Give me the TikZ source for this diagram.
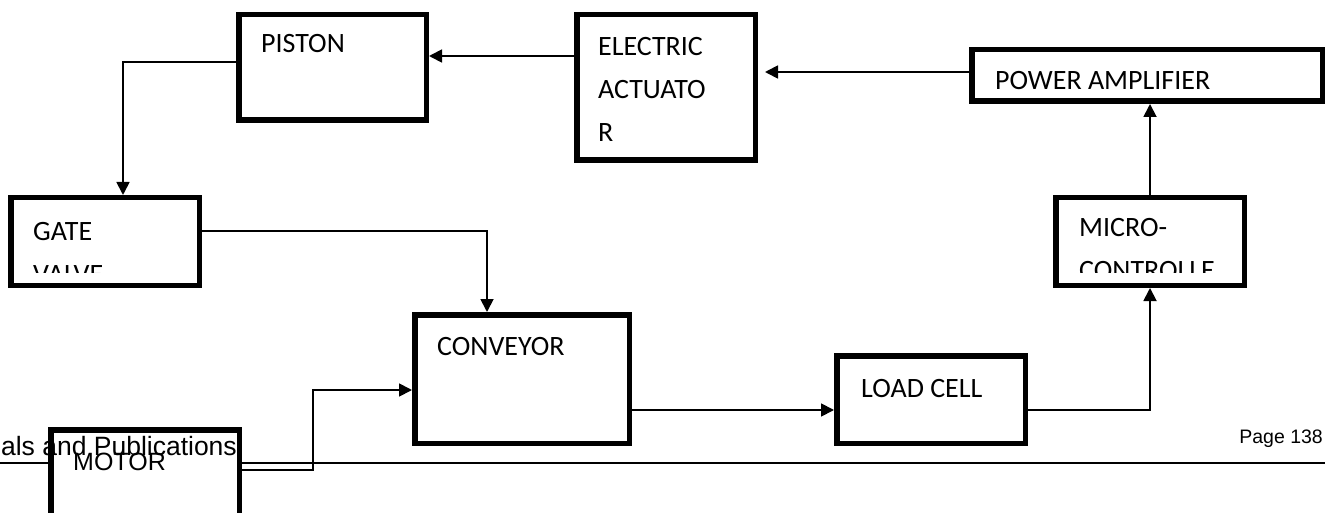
\documentclass[tikz,border=0pt]{standalone}
\usepackage{fontspec}
\setmainfont{Carlito}
\newfontfamily\arialfont{Liberation Sans}
\usepackage{tikz}
\usetikzlibrary{arrows.meta}

\begin{document}
\begin{tikzpicture}[x=1pt,y=-1pt,
    blk/.style={draw, line width=5.5pt, fill=white, inner sep=0pt},
    lbl/.style={anchor=base west, inner sep=0pt, align=left, font=\fontsize{28}{43}\selectfont},
    lbls/.style={lbl, anchor=north west},
    wire/.style={line width=1.8pt},
    arr/.style={wire, -{Triangle[length=13pt,width=13pt]}}]
    \clip (0,0) rectangle (1333,513);
    \fill[white] (0,0) rectangle (1333,513);
    % page footer
    \draw[line width=1.5pt] (0,463)--(1325,463);
    \node[anchor=base east, inner sep=0pt, font=\arialfont\fontsize{19.5}{22}\selectfont] (pg) at (1323,443) {Page 138};
    % blocks
    \node[blk, minimum width=187.5pt, minimum height=105.5pt] (piston) at (332.5,67.5) {};
    \node[blk, minimum width=178.5pt, minimum height=145.5pt] (ea) at (666,87.5) {};
    \node[blk, minimum width=350.5pt, minimum height=51.5pt] (pa) at (1147,75.5) {};
    \node[blk, minimum width=188.5pt, minimum height=87.5pt] (gv) at (105,241.5) {};
    \node[blk, minimum width=188.5pt, minimum height=87.5pt] (mc) at (1150,241.5) {};
    \node[blk, minimum width=214.5pt, minimum height=128.5pt] (conv) at (522,379) {};
    \node[blk, minimum width=188.5pt, minimum height=87.5pt] (lc) at (931,399.5) {};
    \node[blk, minimum width=188.5pt, minimum height=87.5pt] (motor) at (145,473.5) {};
    \node[anchor=base east, inner sep=0pt, font=\arialfont\fontsize{26.5}{30}\selectfont] (src) at (237,455) {als and Publications};
    % texts
    \node[lbl] (tpiston) at (261,53) {PISTON};
    \node[lbls] (tea) at (598,37) {ELECTRIC\\ACTUATO\\R};
    \node[lbl] (tpa) at (995,90) {POWER AMPLIFIER};
    \begin{scope}
        \clip (0,195) rectangle (202,272);
        \node[lbls] (tgv) at (33,222) {GATE\\VALVE};
    \end{scope}
    \begin{scope}
        \clip (1053,195) rectangle (1247,272);
        \node[lbls] (tmc) at (1079,218) {MICRO-\\CONTROLLE};
    \end{scope}
    \node[lbl] (tconv) at (437,355) {CONVEYOR};
    \node[lbl] (tlc) at (861,397) {LOAD CELL};
    \node[anchor=base west, inner sep=0pt, font=\arialfont\fontsize{25}{28}\selectfont] (tmotor) at (73,470) {MOTOR};
    % connectors
    \coordinate (eain) at (765,72);
    \coordinate (c1) at (0,56);
    \coordinate (c2) at (123,62);
    \coordinate (c3) at (487,231);
    \coordinate (c4) at (313,470);
    \coordinate (c5) at (313,390);
    \coordinate (c6) at (0,410);
    \draw[arr] (pa.west |- eain)--(eain);
    \draw[arr] (ea.west |- c1)--(piston.east |- c1);
    \draw[arr] (piston.west |- c2) -| (c2 |- gv.north);
    \draw[arr] (gv.east |- c3) -| (c3 |- conv.north);
    \draw[arr] (motor.east |- c4) -- (c4) -- (c5) -- (conv.west |- c5);
    \draw[arr] (conv.east |- c6)--(lc.west |- c6);
    \draw[arr] (lc.east |- c6) -| (mc.south);
    \draw[arr] (mc.north)--(mc.north |- pa.south);
\end{tikzpicture}
\end{document}
